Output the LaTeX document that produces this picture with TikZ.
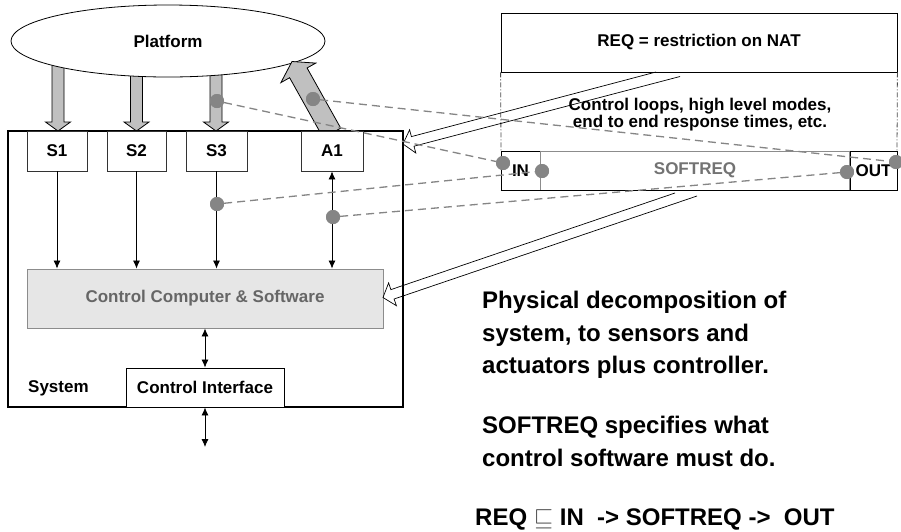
\documentclass[tikz,border=0pt]{standalone}
\usepackage{fontspec}
\setmainfont{Liberation Sans}
\usetikzlibrary{calc,arrows.meta,shapes.geometric}
\definecolor{arrgray}{HTML}{C0C0C0}
\definecolor{dotgray}{HTML}{858585}
\definecolor{ccfill}{HTML}{E6E6E6}
\definecolor{cctext}{HTML}{666666}
\newcommand\blkarr[5]{%
  \coordinate (hh) at ($(#2)!#5!(#1)$);
  \filldraw[blockarrow] ($(#1)!#3!90:(#2)$) -- ($(hh)!#3!-90:(#1)$) -- ($(hh)!#4!-90:(#1)$) -- (#2) -- ($(hh)!#4!90:(#1)$) -- ($(hh)!#3!90:(#1)$) -- ($(#1)!#3!-90:(#2)$) -- cycle;}
\begin{document}
\begin{tikzpicture}[x=1pt,y=-1pt,
  font=\fontsize{17}{20}\selectfont\bfseries,
  blockarrow/.style={fill=arrgray,draw=black,line width=0.8pt,line join=miter},
  sbox/.style={draw=black!80,fill=white,line width=0.8pt,inner sep=0pt,minimum height=40pt,minimum width=#1},
  dot/.style={circle,fill=dotgray,inner sep=0pt,minimum size=14pt},
  dashline/.style={draw=dotgray,line width=1.3pt,dash pattern=on 8pt off 5pt},
  thinarrow/.style={line width=0.8pt,-{Latex[length=8pt,width=7pt]}},
  thinboth/.style={line width=0.8pt,{Latex[length=8pt,width=7pt]}-{Latex[length=8pt,width=7pt]}},
  hollow/.style={draw=black,line width=0.7pt,line join=miter},
  bigtext/.style={font=\fontsize{24}{30}\selectfont\bfseries,anchor=base west,inner sep=0pt}]
\useasboundingbox (0,0) rectangle (901,531);
\fill[white] (0,0) rectangle (901,531);

% block arrows platform -> sensors
\coordinate (b1) at (58,50);  \coordinate (t1) at (58,131);
\coordinate (b2) at (136.5,50); \coordinate (t2) at (136.5,131);
\coordinate (b3) at (216,50); \coordinate (t3) at (216,131);
\blkarr{b1}{t1}{6pt}{12.5pt}{9pt}
\blkarr{b2}{t2}{6pt}{12.5pt}{9pt}
\blkarr{b3}{t3}{6pt}{12.5pt}{9pt}

% platform
\node[ellipse,draw=black,line width=0.8pt,fill=white,minimum width=314pt,minimum height=72pt,inner sep=0pt] (plat) at (168,41) {Platform};

% actuator arrow
\coordinate (ab) at (332,133); \coordinate (at) at (292,61.5);
\blkarr{ab}{at}{10pt}{20pt}{13pt}

% system
\node[draw=black,line width=1.4pt,minimum width=395pt,minimum height=276pt,inner sep=0pt] (sys) at (205.5,269) {};
\node[anchor=west,inner sep=0pt] (systxt) at (28,388) {System};

\node[sbox=60pt] (s1) at (57,151) {S1};
\node[sbox=59pt] (s2) at (136.5,151) {S2};
\node[sbox=61pt] (s3) at (216.5,151) {S3};
\node[sbox=62pt] (a1) at (332,151) {A1};

\node[draw=black!45,fill=ccfill,line width=0.9pt,minimum width=356pt,minimum height=59pt,inner sep=0pt,text=cctext] (cc) at (205,298.5) {Control Computer \& Software};
\node[draw=black,fill=white,line width=0.9pt,minimum width=158pt,minimum height=39pt,inner sep=0pt] (ci) at (205,387.5) {Control Interface};

\draw[thinarrow] (s1.south) -- (s1.south |- cc.north);
\draw[thinarrow] (s2.south) -- (s2.south |- cc.north);
\draw[thinarrow] (s3.south) -- (s3.south |- cc.north);
\draw[thinboth] (a1.south) -- (a1.south |- cc.north);
\draw[thinboth] (cc.south -| ci.north) -- (ci.north);
\coordinate (ext) at (205,447);
\draw[thinboth] (ci.south) -- (ext);

% requirement boxes
\node[draw=black,line width=0.8pt,minimum width=396pt,minimum height=59pt,inner sep=0pt] (req) at (699,42.5) {REQ = restriction on NAT};
\draw[black!70,line width=0.8pt,dash pattern=on 5pt off 2pt on 1pt off 2pt] (req.south west) -- (501,151);
\draw[black!70,line width=0.8pt,dash pattern=on 5pt off 2pt on 1pt off 2pt] (req.south east) -- (897,151);
\node[align=center,font=\fontsize{17}{17}\selectfont\bfseries] (loops) at (700,115) {Control loops, high level modes,\\end to end response times, etc.};

\node[draw=black!45,line width=0.8pt,minimum width=310pt,minimum height=39pt,inner sep=0pt,text=black!55] (soft) at (695,170.5) {SOFTREQ};
\node[draw=black,line width=0.8pt,minimum width=39pt,minimum height=39pt,inner sep=0pt] (inb) at (520.5,170.5) {IN};
\node[draw=black,line width=0.8pt,minimum width=47pt,minimum height=39pt,inner sep=0pt] (outb) at (873.5,170.5) {OUT};
\draw[black!45,line width=0.9pt] (inb.north east) -- (inb.south east);
\draw[black!45,line width=0.9pt] (outb.north west) -- (outb.south west);
\draw[black,line width=0.8pt] (inb.south west) -- (outb.south east);

% hollow arrows
\coordinate (ha1) at (656,72); \coordinate (ha2) at (680,76.5);
\draw[hollow] (ha1) -- (411.4,136.6) -- (409.6,129.8) -- (403,144) -- (415.8,153) -- (414,146.2) -- (ha2);
\coordinate (hb1) at (675,193); \coordinate (hb2) at (697,196);
\draw[hollow] (hb1) -- (390.9,289.6) -- (388.6,282.9) -- (383,297.5) -- (396.4,305.7) -- (394.1,299) -- (hb2);

% dots and dashed links
\node[dot] (ds3a) at (217,101) {};
\node[dot] (da1a) at (313,99) {};
\node[dot] (ds3b) at (217,204) {};
\node[dot] (da1b) at (333,217) {};
\node[dot] (dinl) at (503,163) {};
\node[dot] (dinr) at (542,171) {};
\node[dot] (doutl) at (847,172) {};
\node[dot] (doutr) at (896,162) {};
\draw[dashline] (ds3a) -- (dinl);
\draw[dashline] (da1a) -- (doutr);
\draw[dashline] (ds3b) -- (dinr);
\draw[dashline] (da1b) -- (doutl);
\node[dot] at (ds3a) {};
\node[dot] at (da1a) {};
\node[dot] at (ds3b) {};
\node[dot] at (da1b) {};
\node[dot] at (dinl) {};
\node[dot] at (dinr) {};
\node[dot] at (doutl) {};
\node[dot] at (doutr) {};

% explanatory text
\node[bigtext] (t1) at (482,308.5) {Physical decomposition of};
\node[bigtext] (t2) at (482,341) {system, to sensors and};
\node[bigtext] (t3) at (482,373.5) {actuators plus controller.};
\node[bigtext] (t4) at (482,433.5) {SOFTREQ specifies what};
\node[bigtext] (t5) at (482,466) {control software must do.};
\node[bigtext] (t6) at (475,525.5) {REQ {\mdseries\color{black!70}$\sqsubseteq$} IN \ -> SOFTREQ -> \ OUT};
\end{tikzpicture}
\end{document}
